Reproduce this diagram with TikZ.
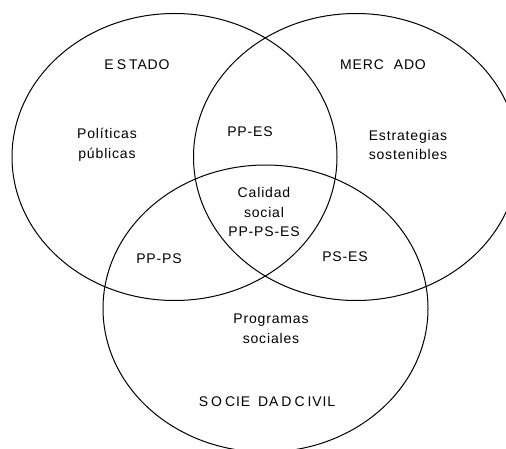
\documentclass[tikz,border=0pt]{standalone}
\usepackage{fontspec}
\setmainfont{Liberation Sans}[LetterSpace=6]
\usepackage{tikz}
\usetikzlibrary{shapes.geometric}
\tikzset{
  conj/.style={ellipse,draw,line width=1pt,inner sep=0pt,minimum width=325pt,minimum height=287pt},
  lbl/.style={font=\fontsize{14}{19.5}\selectfont,align=center,inner sep=0pt}
}
\newcommand{\gp}{\hspace{3pt}}
\begin{document}
\begin{tikzpicture}[x=1pt,y=-1pt]
    \useasboundingbox (0,0) rectangle (506,449);
    \clip (0,0) rectangle (506,449);

    % Three sets
    \node[conj] (estado) at (174.5,157) {};
    \node[conj] (mercado) at (356,157) {};
    \node[conj] (sociedad) at (265.5,308.5) {};

    % Set names
    \node[lbl] (nEstado) at (137,65) {E\gp S\gp TADO};
    \node[lbl] (nMercado) at (383,65) {MERC\hspace{10pt}ADO};
    \node[lbl] (nSociedad) at (267,402) {S\gp O\gp CIE\hspace{8pt}DA\gp D\gp C\gp IVIL};

    % Own regions
    \node[lbl] (pp) at (107,145) {Políticas\\públicas};
    \node[lbl] (es) at (408,145) {Estrategias\\sostenibles};
    \node[lbl] (ps) at (271,329) {Programas\\sociales};

    % Intersections
    \node[lbl] (ppes) at (250,132) {PP-ES};
    \node[lbl] (ppps) at (159,259) {PP-PS};
    \node[lbl] (pses) at (345,257) {PS-ES};
    \node[lbl] (calidad) at (264,212) {Calidad\\social\\PP-PS-ES};
\end{tikzpicture}
\end{document}
